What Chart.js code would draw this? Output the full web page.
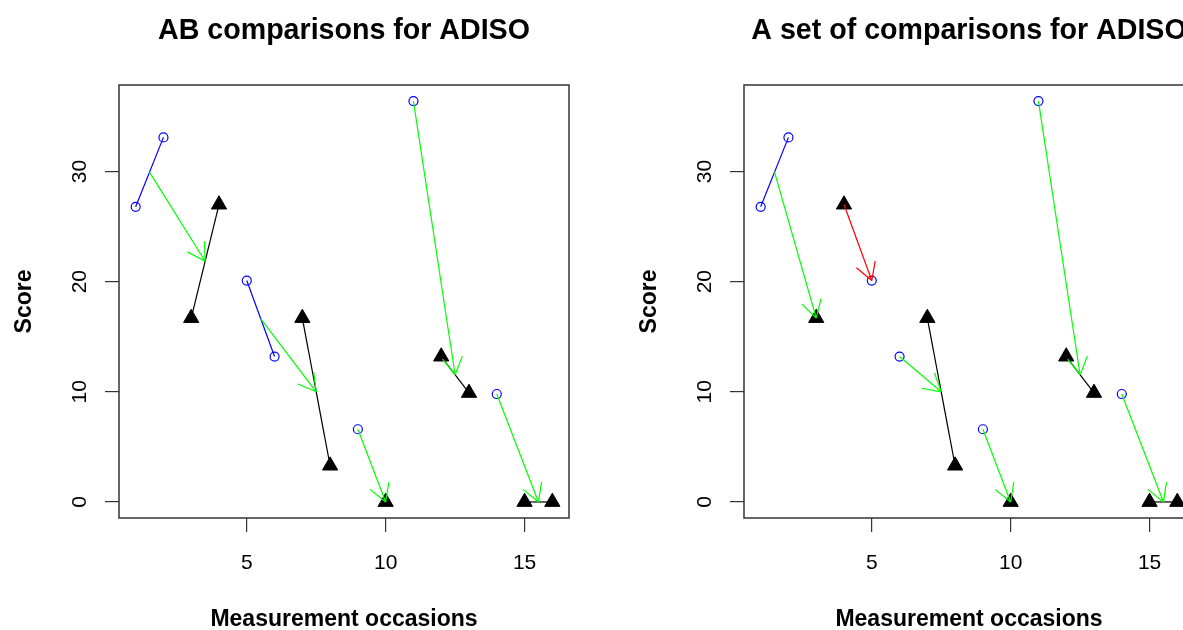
<!DOCTYPE html>
<html>
<head>
<meta charset="utf-8">
<script src="https://cdn.jsdelivr.net/npm/chart.js@4.4.1/dist/chart.umd.min.js"></script>
<style>
  html, body { margin: 0; padding: 0; background: #fff; overflow: hidden; width: 1183px; height: 630px; }
  .panel { position: absolute; top: 0; width: 600px; height: 630px; }
</style>
</head>
<body>
<div class="panel" style="left:0px"><canvas id="abChart" width="600" height="630"></canvas></div>
<div class="panel" style="left:625px"><canvas id="setChart" width="600" height="630"></canvas></div>
<script>
// Measurement occasions and ADISO scores
const occasions = [1, 2, 3, 4, 5, 6, 7, 8, 9, 10, 11, 12, 13, 14, 15, 16];
const scores    = [26.8, 33.1, 16.7, 27.0, 20.1, 13.2, 16.7, 3.3, 6.6, 0, 36.4, 13.2, 9.9, 9.8, 0, 0];
const phases    = ['A','A','B','B','A','A','B','B','A','B','A','B','B','A','B','B'];

// Axis ticks
const xTicks = [5, 10, 15];
const yTicks = [0, 10, 20, 30];

// Occasions joined by a line inside each panel
const abJoins  = [[1, 2], [3, 4], [5, 6], [7, 8], [12, 13], [15, 16]];
const setJoins = [[1, 2], [7, 8], [12, 13], [15, 16]];

// Comparisons: arrow from the mean of "from" occasions to the mean of "to" occasions
const abArrows = [
  { from: [1, 2], to: [3, 4], color: '#00ff00' },
  { from: [5, 6], to: [7, 8], color: '#00ff00' },
  { from: [9],    to: [10],   color: '#00ff00' },
  { from: [11],   to: [12, 13], color: '#00ff00' },
  { from: [14],   to: [15, 16], color: '#00ff00' }
];
const setArrows = [
  { from: [1, 2], to: [3],    color: '#00ff00' },
  { from: [4],    to: [5],    color: '#ff0000' },
  { from: [6],    to: [7, 8], color: '#00ff00' },
  { from: [9],    to: [10],   color: '#00ff00' },
  { from: [11],   to: [12, 13], color: '#00ff00' },
  { from: [14],   to: [15, 16], color: '#00ff00' }
];

const FONT = '"Liberation Sans", Arial, Helvetica, sans-serif';
const phaseColor = { A: '#0000ff', B: '#000000' };

function at(occ) { return occasions.indexOf(occ); }
function centre(list) {
  let sx = 0, sy = 0;
  list.forEach(o => { sx += occasions[at(o)]; sy += scores[at(o)]; });
  return { x: sx / list.length, y: sy / list.length };
}

function buildDatasets(joins, arrows) {
  const sets = [];
  // arrow shafts (first = drawn on top)
  arrows.forEach(a => {
    sets.push({
      data: [centre(a.from), centre(a.to)],
      showLine: true, borderColor: a.color, borderWidth: 1.2,
      pointRadius: 0, fill: false
    });
  });
  // phase A: open circles
  sets.push({
    data: occasions.map((o, i) => ({ x: o, y: scores[i] })).filter((p, i) => phases[i] === 'A'),
    showLine: false, pointStyle: 'circle', pointRadius: 4.5,
    pointBorderWidth: 1.2, pointBorderColor: '#0000ff', pointBackgroundColor: 'rgba(0,0,0,0)'
  });
  // phase B: filled triangles
  sets.push({
    data: occasions.map((o, i) => ({ x: o, y: scores[i] })).filter((p, i) => phases[i] === 'B'),
    showLine: false, pointStyle: 'triangle', pointRadius: 8.8,
    pointBorderWidth: 1, pointBorderColor: '#000000', pointBackgroundColor: '#000000'
  });
  // lines within a phase
  joins.forEach(j => {
    const col = phaseColor[phases[at(j[0])]];
    sets.push({
      data: j.map(o => ({ x: o, y: scores[at(o)] })),
      showLine: true, borderColor: col, borderWidth: 1.2, pointRadius: 0, fill: false
    });
  });
  return sets;
}

function panelPlugin(title, arrows) {
  return {
    id: 'panelDecor',
    afterDatasetsDraw(chart) {
      const ctx = chart.ctx, xs = chart.scales.x, ys = chart.scales.y;
      const len = 20, spread = Math.PI / 6;
      ctx.save();
      ctx.lineWidth = 1.2;
      arrows.forEach(a => {
        const p0 = centre(a.from), p1 = centre(a.to);
        const x0 = xs.getPixelForValue(p0.x), y0 = ys.getPixelForValue(p0.y);
        const x1 = xs.getPixelForValue(p1.x), y1 = ys.getPixelForValue(p1.y);
        const ang = Math.atan2(y1 - y0, x1 - x0);
        ctx.strokeStyle = a.color;
        ctx.beginPath();
        [-1, 1].forEach(s => {
          const b = ang + Math.PI + s * spread;
          ctx.moveTo(x1, y1);
          ctx.lineTo(x1 + len * Math.cos(b), y1 + len * Math.sin(b));
        });
        ctx.stroke();
      });
      ctx.restore();
    },
    afterDraw(chart) {
      const ctx = chart.ctx, area = chart.chartArea;
      const xs = chart.scales.x, ys = chart.scales.y;
      const cx = (area.left + area.right) / 2, cy = (area.top + area.bottom) / 2;
      ctx.save();
      // plot frame
      ctx.strokeStyle = '#333333';
      ctx.lineWidth = 1.5;
      ctx.strokeRect(area.left, area.top, area.right - area.left, area.bottom - area.top);
      ctx.fillStyle = '#000000';
      // title
      ctx.font = 'bold 28.6px ' + FONT;
      ctx.textAlign = 'center';
      ctx.textBaseline = 'alphabetic';
      ctx.fillText(title, cx, 39);
      // x tick labels
      ctx.font = '21px ' + FONT;
      xs.ticks.forEach(t => ctx.fillText(String(t.value), xs.getPixelForValue(t.value), 569));
      // y tick labels, parallel to the axis
      ys.ticks.forEach(t => {
        ctx.save();
        ctx.translate(86, ys.getPixelForValue(t.value));
        ctx.rotate(-Math.PI / 2);
        ctx.fillText(String(t.value), 0, 0);
        ctx.restore();
      });
      // axis titles
      ctx.font = 'bold 23px ' + FONT;
      ctx.fillText('Measurement occasions', cx, 626);
      ctx.save();
      ctx.translate(31, cy);
      ctx.rotate(-Math.PI / 2);
      ctx.fillText('Score', 0, 0);
      ctx.restore();
      ctx.restore();
    }
  };
}

function makePanel(canvasId, title, joins, arrows) {
  return new Chart(document.getElementById(canvasId), {
    type: 'scatter',
    data: { datasets: buildDatasets(joins, arrows) },
    options: {
      responsive: false,
      animation: false,
      devicePixelRatio: 1,
      layout: { padding: { left: 0, top: 85, right: 31, bottom: 0 } },
      plugins: { legend: { display: false }, tooltip: { enabled: false }, title: { display: false } },
      scales: {
        x: {
          type: 'linear', position: 'bottom', min: 0.4, max: 16.6,
          afterBuildTicks: s => { s.ticks = xTicks.map(v => ({ value: v })); },
          afterFit: s => { s.height = 112; },
          ticks: { display: false },
          grid: { drawOnChartArea: false, drawTicks: true, tickLength: 14, color: '#333333', lineWidth: 1.2 },
          border: { display: false }
        },
        y: {
          type: 'linear', position: 'left', min: -1.456, max: 37.856,
          afterBuildTicks: s => { s.ticks = yTicks.map(v => ({ value: v })); },
          afterFit: s => { s.width = 119; },
          ticks: { display: false },
          grid: { drawOnChartArea: false, drawTicks: true, tickLength: 14, color: '#333333', lineWidth: 1.2 },
          border: { display: false }
        }
      }
    },
    plugins: [panelPlugin(title, arrows)]
  });
}

makePanel('abChart', 'AB comparisons for ADISO', abJoins, abArrows);
makePanel('setChart', 'A set of comparisons for ADISO', setJoins, setArrows);
</script>
</body>
</html>
